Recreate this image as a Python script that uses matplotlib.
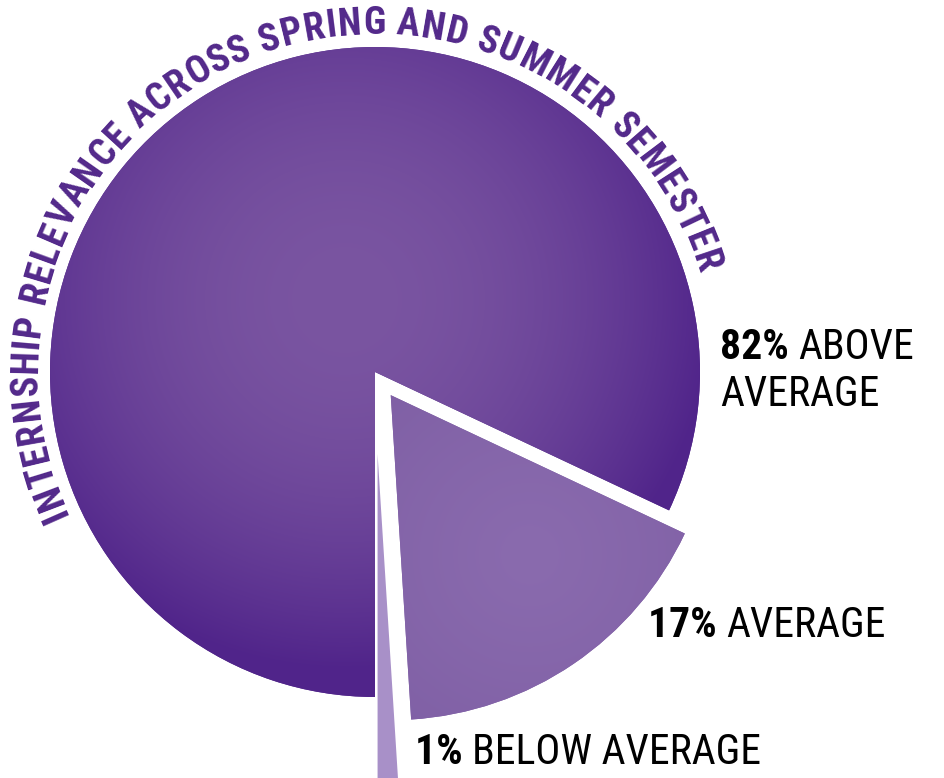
import numpy as np
import matplotlib
matplotlib.use('Agg')
import matplotlib.pyplot as plt
from matplotlib.colors import to_rgb
from matplotlib.font_manager import FontProperties

# data
pcts = [82, 17, 1]
labels = ['ABOVE\nAVERAGE', 'AVERAGE', 'BELOW AVERAGE']
title = 'INTERNSHIP RELEVANCE ACROSS SPRING AND SUMMER SEMESTER'

colors = ['#52278a', '#7f60a5', '#a890c8']
purple = '#52288a'
font = 'Roboto Condensed'

W, H = 944, 778
fig = plt.figure(figsize=(W / 100, H / 100), dpi=100)
ax = fig.add_axes([0, 0, 1, 1])

# pie in pixel units (y up), explode is in pixels too
cx, cy, R = 375, H - 372, 325
wedges, _ = ax.pie(pcts, colors=colors, startangle=-90, counterclock=False,
                   radius=R, center=(cx, cy), explode=[0, 28, 82],
                   wedgeprops=dict(linewidth=0))

# radial gradients clipped to the wedges
yy, xx = np.mgrid[0:H, 0:W] + 0.5


def radial(fx, fy, rad, c_in, c_out, p):
    d = np.clip(np.hypot(xx - fx, yy - fy) / rad, 0, 1) ** p
    a, b = np.array(to_rgb(c_in)), np.array(to_rgb(c_out))
    return a * (1 - d)[..., None] + b * d[..., None]


grads = [radial(345, H - 300, 370, '#7a55a1', '#50248a', 2.0),
         radial(530, H - 555, 260, '#8a6bae', '#7d5da3', 1.2)]
for w, g in zip(wedges[:2], grads):
    im = ax.imshow(g, extent=(0, W, 0, H), origin='lower', zorder=2,
                   interpolation='bilinear')
    im.set_clip_path(w)

fig.canvas.draw()
rend = fig.canvas.get_renderer()

# curved title along the arc
tsize = 27.5
fp = FontProperties(family=font, weight='bold', size=tsize)
Rt = 338
a0, a1 = np.radians(203.9), np.radians(18.5)


def adv(s):
    if not s:
        return 0
    return rend.get_text_width_height_descent(s, fp, ismath=False)[0]


cum = [adv(title[:i]) for i in range(len(title) + 1)]
mids = [(cum[i] + cum[i + 1]) / 2 for i in range(len(title))]
track = (Rt * (a0 - a1) - (mids[-1] - mids[0])) / (len(title) - 1)
for i, ch in enumerate(title):
    if ch == ' ':
        continue
    th = a0 - (mids[i] - mids[0] + track * i) / Rt
    ax.text(cx + Rt * np.cos(th), cy + Rt * np.sin(th), ch, fontproperties=fp,
            color=purple, ha='center', va='baseline', rotation=np.degrees(th) - 90,
            rotation_mode='anchor', zorder=3)

# labels
label_pos = [(720, H - 359), (648, H - 637), (415, H - 764)]
lsize = 30
for p, lab, (x, y) in zip(pcts, labels, label_pos):
    lines = lab.split('\n')
    t = ax.text(x, y, f'{p}% ', fontsize=lsize, family=font, weight='bold',
                va='baseline', ha='left', zorder=4)
    bw = t.get_window_extent(rend).width
    ax.text(x + bw, y, lines[0], fontsize=lsize, family=font,
            va='baseline', ha='left', zorder=4)
    for k, ln in enumerate(lines[1:], 1):
        ax.text(x, y - 47 * k, ln, fontsize=lsize, family=font,
                va='baseline', ha='left', zorder=4)

ax.set_xlim(0, W)
ax.set_ylim(0, H)
ax.set_aspect('auto')
ax.axis('off')
fig.savefig('out.png', dpi=100)
